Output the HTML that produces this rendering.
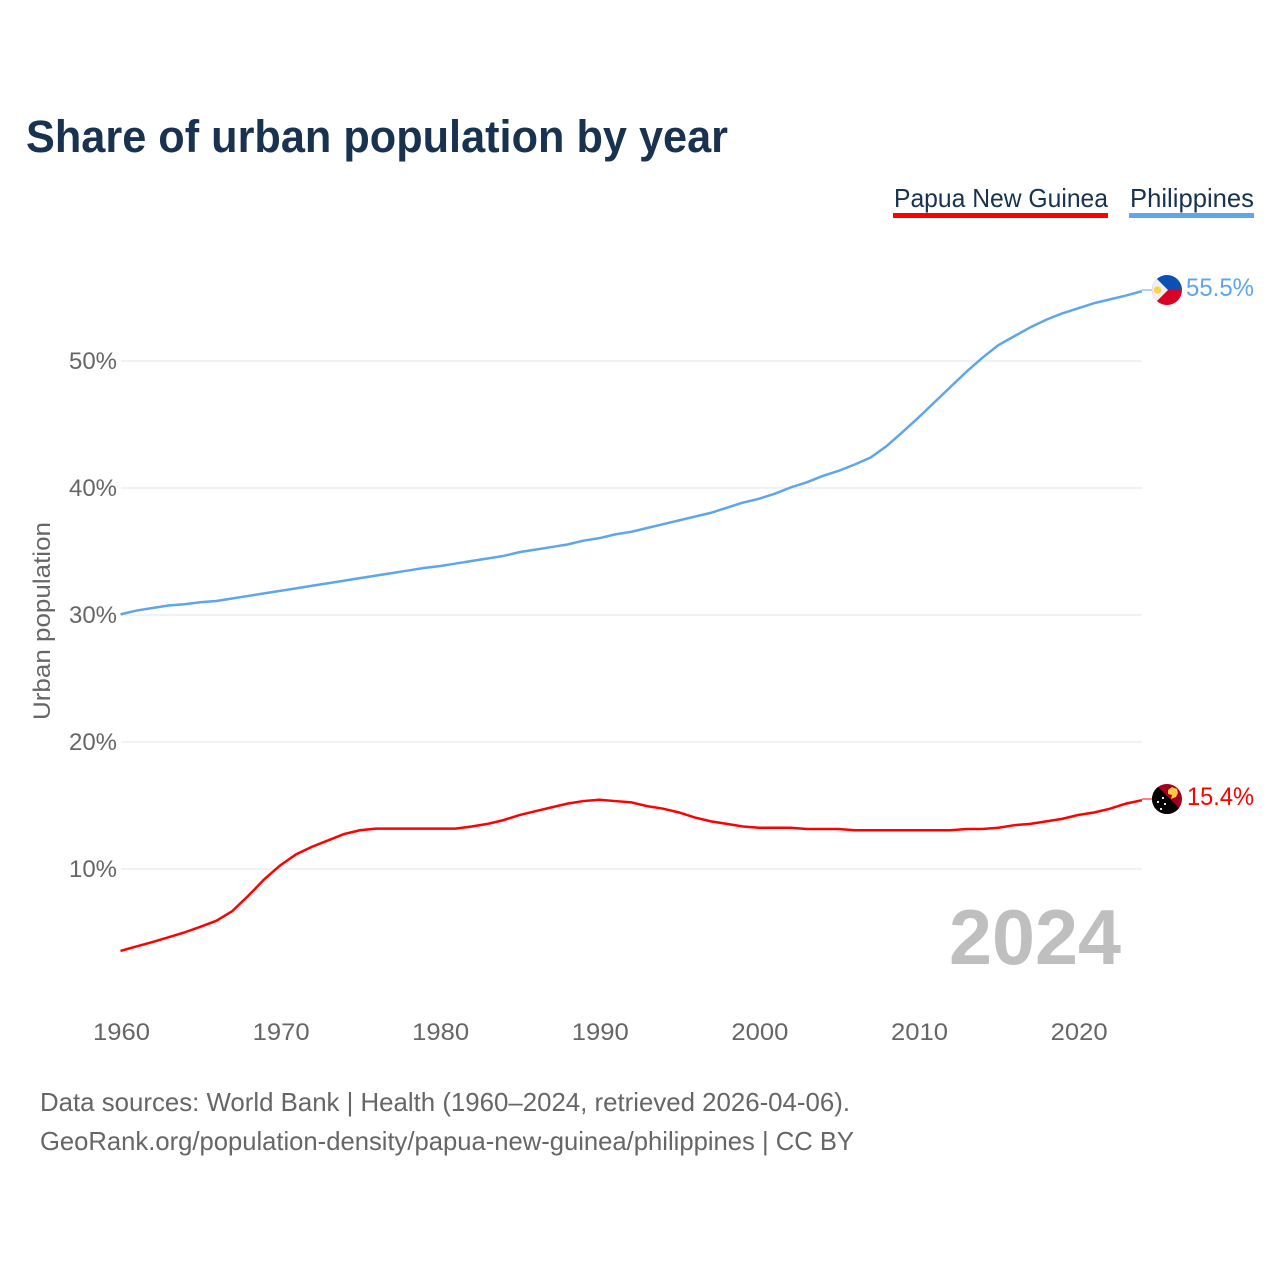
<!DOCTYPE html>
<html lang="en">
<head>
<meta charset="utf-8">
<title>Share of urban population by year</title>
<style>
html,body{margin:0;padding:0;background:#fff;width:1280px;height:1280px;overflow:hidden}
svg{display:block}
text{font-family:"Liberation Sans",sans-serif}
</style>
</head>
<body>
<svg id="chart" xmlns="http://www.w3.org/2000/svg" width="1280" height="1280" viewBox="0 0 1280 1280">
  <defs>
    <clipPath id="flag-clip-ph"><circle cx="1167" cy="290" r="15"/></clipPath>
    <clipPath id="flag-clip-pg"><circle cx="1167" cy="799" r="15"/></clipPath>
  </defs>
  <text x="26" y="152" font-size="45" font-weight="700" fill="#18324f" textLength="702" lengthAdjust="spacingAndGlyphs">Share of urban population by year</text>

  <g>
    <g>
      <text x="894" y="207" font-size="26" fill="#18324f" textLength="214" lengthAdjust="spacingAndGlyphs">Papua New Guinea</text>
      <rect x="893" y="213" width="215" height="5" fill="#ff0000"/>
    </g>
    <g>
      <text x="1130" y="207" font-size="26" fill="#18324f" textLength="124" lengthAdjust="spacingAndGlyphs">Philippines</text>
      <rect x="1129" y="213" width="125" height="5" fill="#5fa5ea"/>
    </g>
  </g>

  <g id="grid"></g>
  <g id="y-ticks"></g>
  <g id="x-ticks"></g>

  <text transform="translate(50,621) rotate(-90)" text-anchor="middle" font-size="24" fill="#666666" textLength="198" lengthAdjust="spacingAndGlyphs">Urban population</text>

  <text x="949" y="964" font-size="78" font-weight="700" fill="#bfbfbf" textLength="172" lengthAdjust="spacingAndGlyphs">2024</text>

  <g id="series"></g>

  <g>
    <line x1="1142" y1="290" x2="1153" y2="290" stroke="#5fa5ea" stroke-width="1"/>
    <g clip-path="url(#flag-clip-ph)">
      <rect x="1152" y="275" width="30" height="15" fill="#0b50b4"/>
      <rect x="1152" y="290" width="30" height="15" fill="#d80027"/>
      <path d="M1150 272 L1168 290 L1150 308 Z" fill="#f0f0f0"/>
      <circle cx="1157.5" cy="290" r="3.8" fill="#ffd34d"/>
    </g>
    <text id="label-ph" x="1186" y="296" font-size="25" fill="#5fa5ea" textLength="68" lengthAdjust="spacingAndGlyphs"></text>
  </g>

  <g>
    <line x1="1142" y1="799" x2="1153" y2="799" stroke="#ff0000" stroke-width="1"/>
    <g clip-path="url(#flag-clip-pg)">
      <rect x="1152" y="784" width="30" height="30" fill="#a2001d"/>
      <path d="M1155 784 L1182 811 L1182 816 L1150 816 L1150 789 Z" fill="#000000"/>
      <path d="M1168 790 L1172 787 L1177 789 L1178 793 L1176 797 L1171 799 L1172 795 L1168 794 Z" fill="#ffc63f"/>
      <circle cx="1163" cy="798" r="1.1" fill="#ffffff"/>
      <circle cx="1158" cy="802" r="1.1" fill="#ffffff"/>
      <circle cx="1165" cy="804" r="1.1" fill="#ffffff"/>
      <circle cx="1161" cy="809" r="1.1" fill="#ffffff"/>
    </g>
    <text id="label-pg" x="1187" y="805" font-size="25" fill="#ff0000" textLength="67" lengthAdjust="spacingAndGlyphs"></text>
  </g>

  <g>
    <text x="40" y="1111" font-size="26" fill="#666666" textLength="810" lengthAdjust="spacingAndGlyphs">Data sources: World Bank | Health (1960–2024, retrieved 2026-04-06).</text>
    <text x="40" y="1150" font-size="26" fill="#666666" textLength="814" lengthAdjust="spacingAndGlyphs">GeoRank.org/population-density/papua-new-guinea/philippines | CC BY</text>
  </g>
</svg>

<script>
var startYear = 1960;
var philippinesValues = [30.05,30.35,30.55,30.75,30.85,31.0,31.1,31.3,31.5,31.7,31.9,32.1,32.3,32.5,32.7,32.9,33.1,33.3,33.5,33.7,33.85,34.05,34.25,34.45,34.65,34.95,35.15,35.35,35.55,35.85,36.05,36.35,36.55,36.85,37.15,37.45,37.75,38.05,38.45,38.85,39.15,39.55,40.05,40.45,40.95,41.35,41.85,42.4,43.3,44.4,45.55,46.75,47.95,49.15,50.25,51.25,51.95,52.65,53.25,53.75,54.15,54.55,54.85,55.15,55.5];
var papuaNewGuineaValues = [3.55,3.9,4.25,4.62,5.0,5.45,5.92,6.68,7.88,9.18,10.28,11.15,11.75,12.25,12.75,13.05,13.18,13.18,13.18,13.18,13.18,13.18,13.35,13.55,13.85,14.25,14.55,14.85,15.15,15.35,15.45,15.35,15.25,14.95,14.75,14.45,14.05,13.75,13.55,13.35,13.25,13.25,13.25,13.15,13.15,13.15,13.05,13.05,13.05,13.05,13.05,13.05,13.05,13.15,13.15,13.25,13.45,13.55,13.75,13.95,14.25,14.45,14.75,15.15,15.42];
var yTickValues = [10,20,30,40,50];
var xTickValues = [1960,1970,1980,1990,2000,2010,2020];
var philippinesLabel = "55.5%";
var papuaNewGuineaLabel = "15.4%";

var SVG_NS = "http://www.w3.org/2000/svg";
function xScale(year){ return 120.5 + (year - 1960) * 15.96; }
function yScale(value){ return 869 - (value - 10) * 12.7; }

var gridGroup = document.getElementById("grid");
var yGroup = document.getElementById("y-ticks");
var xGroup = document.getElementById("x-ticks");
var seriesGroup = document.getElementById("series");

yTickValues.forEach(function(v){
  var line = document.createElementNS(SVG_NS, "line");
  
  
  line.setAttribute("x1", 121);
  line.setAttribute("x2", 1142);
  line.setAttribute("y1", yScale(v));
  line.setAttribute("y2", yScale(v));
  line.setAttribute("stroke", "#eeeeee");
  line.setAttribute("stroke-width", "1.5");
  gridGroup.appendChild(line);

  var label = document.createElementNS(SVG_NS, "text");
  
  
  label.setAttribute("x", 117);
  label.setAttribute("y", yScale(v) + 8);
  label.setAttribute("text-anchor", "end");
  label.setAttribute("font-size", "24.5");
  label.setAttribute("fill", "#666666");
  label.setAttribute("textLength", "48");
  label.setAttribute("lengthAdjust", "spacingAndGlyphs");
  label.textContent = v + "%";
  yGroup.appendChild(label);
});

xTickValues.forEach(function(y){
  var label = document.createElementNS(SVG_NS, "text");
  
  
  label.setAttribute("x", xScale(y) + 1);
  label.setAttribute("y", 1040);
  label.setAttribute("text-anchor", "middle");
  label.setAttribute("font-size", "24.5");
  label.setAttribute("fill", "#666666");
  label.setAttribute("textLength", "57");
  label.setAttribute("lengthAdjust", "spacingAndGlyphs");
  label.textContent = y;
  xGroup.appendChild(label);
});

function pointsFor(values){
  return values.map(function(v, i){
    return xScale(startYear + i).toFixed(2) + "," + yScale(v).toFixed(2);
  }).join(" ");
}

var philippinesLine = document.createElementNS(SVG_NS, "polyline");


philippinesLine.setAttribute("points", pointsFor(philippinesValues));
philippinesLine.setAttribute("fill", "none");
philippinesLine.setAttribute("stroke", "#5fa5ea");
philippinesLine.setAttribute("stroke-width", "2.5");
seriesGroup.appendChild(philippinesLine);

var papuaLine = document.createElementNS(SVG_NS, "polyline");


papuaLine.setAttribute("points", pointsFor(papuaNewGuineaValues));
papuaLine.setAttribute("fill", "none");
papuaLine.setAttribute("stroke", "#ff0000");
papuaLine.setAttribute("stroke-width", "2.5");
seriesGroup.appendChild(papuaLine);

document.getElementById("label-ph").textContent = philippinesLabel;
document.getElementById("label-pg").textContent = papuaNewGuineaLabel;
</script>
</body>
</html>
